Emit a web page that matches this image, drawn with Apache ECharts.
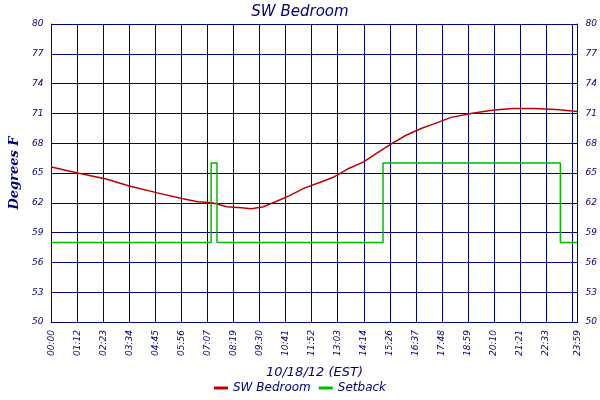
<!DOCTYPE html>
<html><head><meta charset="utf-8">
<script src="https://cdn.jsdelivr.net/npm/echarts@6/dist/echarts.min.js"></script>
<style>html,body{margin:0;padding:0;background:#fff}#c{width:600px;height:400px}</style>
</head><body><div id="c"></div>
<script>
const tempMinutes = [0,72,150,213,290,360,400,440,480,520,547,580,613,650,693,730,773,810,853,890,933,970,1013,1050,1093,1147,1200,1227,1260,1320,1380,1439];
const tempValues  = [65.6,65.0,64.4,63.7,63.0,62.4,62.1,62.0,61.6,61.5,61.4,61.6,62.1,62.7,63.5,64.0,64.6,65.4,66.1,67.0,68.0,68.8,69.5,70.0,70.6,71.0,71.3,71.4,71.5,71.5,71.4,71.2];
const setMinutes  = [0,437,437,453,453,907,907,1392,1392,1439];
const setValues   = [58,58,66,66,58,58,66,66,58,58];
const xTickLabels = ['00:00','01:12','02:23','03:34','04:45','05:56','07:07','08:19','09:30','10:41','11:52','13:03','14:14','15:26','16:37','17:48','18:59','20:10','21:21','22:33','23:44'];
const navy = '#000080';
const chart = echarts.init(document.getElementById('c'));
const font = {fontFamily:'DejaVu Sans',fontStyle:'italic',color:navy};
const yAx = (pos)=>({type:'value',position:pos,min:50,max:80,interval:3,
  axisLine:{show:true,lineStyle:{color:navy}},axisTick:{show:false},
  splitLine:{show:pos==='left',lineStyle:{color:navy,width:1}},
  axisLabel:Object.assign({fontSize:9},font),
  name:pos==='left'?'Degrees F':'',nameLocation:'middle',nameGap:26,
  nameTextStyle:{fontFamily:'DejaVu Serif',fontStyle:'italic',fontWeight:'bold',fontSize:13,color:navy}});
chart.setOption({
  animation:false,backgroundColor:'#fff',
  title:{text:'SW Bedroom',left:'center',top:0,textStyle:{fontFamily:'DejaVu Sans',fontStyle:'italic',fontWeight:'normal',fontSize:15,color:navy}},
  grid:{left:40,right:20,top:24,bottom:78},
  legend:{bottom:1,itemWidth:14,itemHeight:3,icon:'rect',textStyle:Object.assign({fontSize:12},font),
    data:['SW Bedroom','Setback']},
  xAxis:{type:'value',min:0,max:1439,interval:71.2,
    axisLine:{show:true,lineStyle:{color:navy}},axisTick:{show:false},
    splitLine:{show:true,lineStyle:{color:navy}},
    axisLabel:Object.assign({fontSize:9,rotate:90,showMaxLabel:true,
      formatter:v=>{if(v>=1439)return '23:59';const i=Math.round(v/71.2);return xTickLabels[i]||'';}},font),
    name:'10/18/12 (EST)',nameLocation:'middle',nameGap:44,
    nameTextStyle:Object.assign({fontSize:13},font)},
  yAxis:[yAx('left'),yAx('right')],
  series:[
    {name:'SW Bedroom',type:'line',symbol:'none',color:'#c00000',lineStyle:{width:1.5,color:'#c00000'},
     data:tempMinutes.map((m,i)=>[m,tempValues[i]])},
    {name:'Setback',type:'line',symbol:'none',color:'#00bb00',lineStyle:{width:1.5,color:'#00bb00'},
     data:setMinutes.map((m,i)=>[m,setValues[i]])}
  ]
});
</script></body></html>
